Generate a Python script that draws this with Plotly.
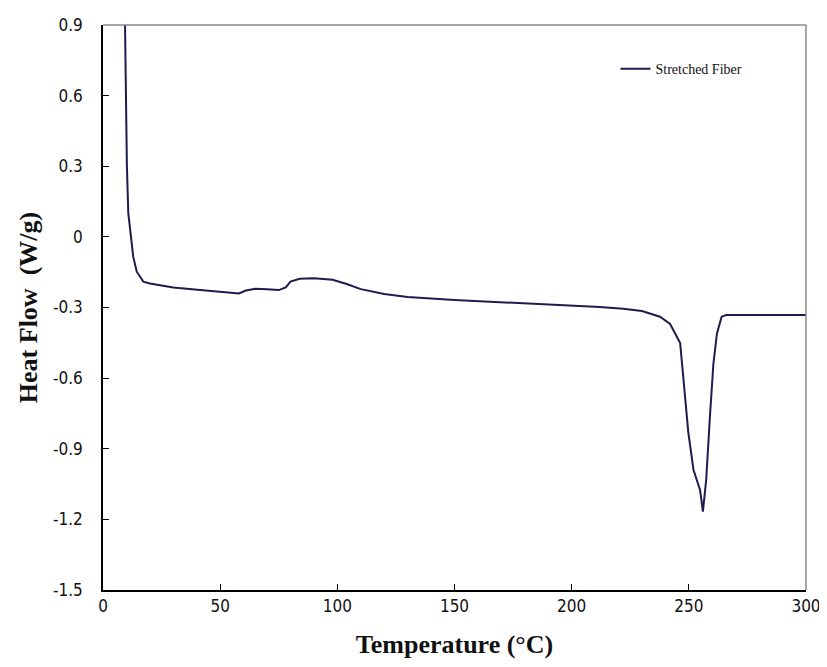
import plotly.graph_objects as go

temperature = [9.4, 9.8, 10.2, 10.8, 11.8, 12.9, 14.4, 17.2, 20, 24, 30, 38, 45, 50, 55, 58, 61, 65, 70, 75, 78, 80, 84, 90, 98, 104, 110, 120, 130, 150, 175, 200, 212, 222, 230, 237.7, 242, 246.3, 247.7, 249.8, 252, 254.8, 256, 257.4, 259, 260.5, 262, 264, 266, 280, 300]
heat_flow = [0.9, 0.6, 0.3, 0.1, 0.0, -0.084, -0.148, -0.19, -0.198, -0.205, -0.215, -0.222, -0.228, -0.232, -0.238, -0.24, -0.228, -0.22, -0.222, -0.226, -0.215, -0.19, -0.178, -0.176, -0.182, -0.2, -0.222, -0.243, -0.255, -0.268, -0.28, -0.29, -0.298, -0.305, -0.315, -0.339, -0.37, -0.451, -0.594, -0.833, -0.99, -1.075, -1.167, -1.033, -0.764, -0.537, -0.41, -0.339, -0.332, -0.332, -0.332]

x_ticks = [0, 50, 100, 150, 200, 250, 300]
y_ticks = [-1.5, -1.2, -0.9, -0.6, -0.3, 0, 0.3, 0.6, 0.9]
y_tick_labels = ["-1.5", "-1.2", "-0.9", "-0.6", "-0.3", "0", "0.3", "0.6", "0.9"]

fig = go.Figure()
fig.add_trace(go.Scatter(x=temperature, y=heat_flow, mode="lines", name="Stretched Fiber",
                         line=dict(color="#1c1c4e", width=2)))

tick_font = dict(family="DejaVu Sans Condensed, Liberation Sans Narrow, Arial Narrow, sans-serif", size=17, color="#111")
title_font = dict(family="Liberation Serif, Times New Roman, serif", size=26, color="#111")

fig.update_layout(
    width=819, height=651,
    margin=dict(l=95, r=21, t=17, b=69, autoexpand=False),
    paper_bgcolor="white", plot_bgcolor="white",
    showlegend=True,
    legend=dict(x=0.729, y=0.922, xanchor="left", yanchor="middle",
                font=dict(family="Liberation Serif, Times New Roman, serif", size=14, color="#111"),
                bgcolor="rgba(0,0,0,0)", borderwidth=0),
    xaxis=dict(range=[0, 300], tickvals=x_ticks, ticks="inside", ticklen=6, tickcolor="black",
               showgrid=False, zeroline=False, showline=True, linecolor="black", linewidth=1.5,
               tickfont=tick_font, ticklabelstandoff=0, ticklabeloverflow="allow", automargin=False,
               title=dict(text="<b>Temperature (°C)</b>", font=title_font, standoff=27)),
    yaxis=dict(range=[-1.5, 0.9], tickvals=y_ticks, ticktext=y_tick_labels, ticks="inside",
               ticklen=6, tickcolor="black",
               showgrid=False, zeroline=False, showline=True, linecolor="black", linewidth=1.5,
               tickfont=tick_font, ticklabelstandoff=15, ticklabeloverflow="allow", automargin=False,
               title=dict(text="<b>Heat Flow  (W/g)</b>", font=title_font, standoff=8)),
    shapes=[
        dict(type="line", xref="x domain", yref="y domain", x0=0, x1=1, y0=1, y1=1,
             line=dict(color="#8a8a8a", width=1.5)),
        dict(type="line", xref="x domain", yref="y domain", x0=1, x1=1, y0=0, y1=1,
             line=dict(color="#8a8a8a", width=1.5)),
    ],
)

fig.write_html("out.html")
